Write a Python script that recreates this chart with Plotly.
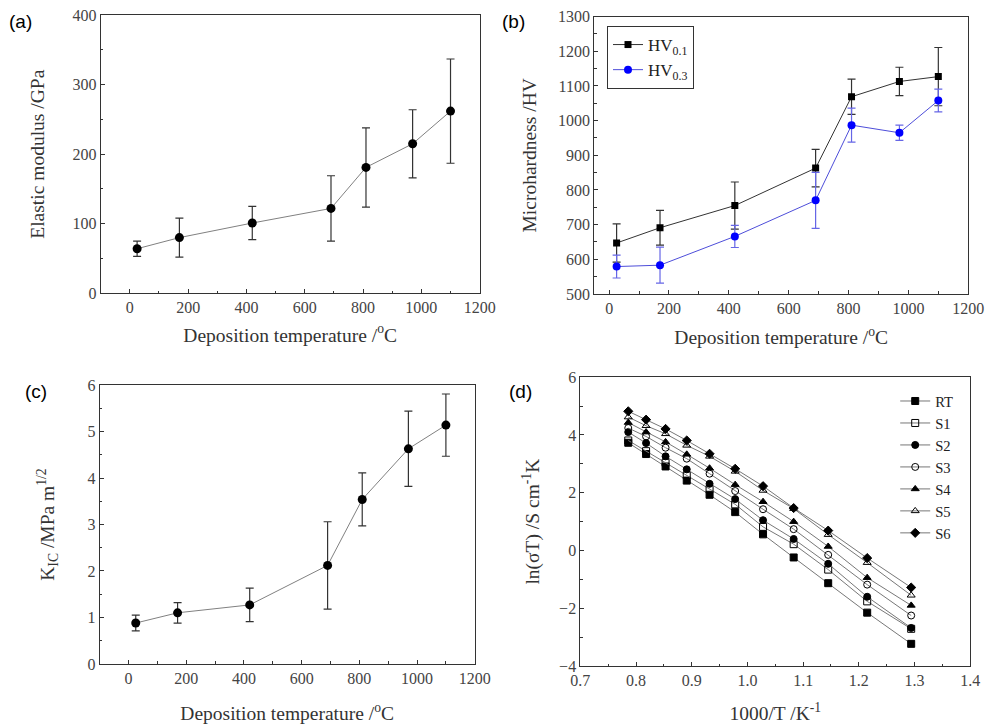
import plotly.graph_objects as go

# ---------------- data ----------------
temps = [25, 170, 420, 690, 810, 970, 1100]

# (a) elastic modulus
modulus = [64, 80, 101, 122, 181, 215, 262]
modulus_err = [11, 28, 24, 47, 57, 49, 75]

# (b) microhardness
hv01 = [647, 691, 755, 863, 1069, 1113, 1127]
hv01_err = [55, 50, 68, 54, 51, 41, 84]
hv03 = [579, 583, 666, 770, 987, 965, 1058]
hv03_err = [33, 52, 32, 81, 49, 22, 33]

# (c) fracture toughness
kic = [0.88, 1.10, 1.27, 2.12, 3.54, 4.63, 5.14]
kic_err = [0.17, 0.22, 0.36, 0.94, 0.57, 0.81, 0.67]

# (d) Arrhenius plot
inv_t = [0.786, 0.818, 0.853, 0.891, 0.932, 0.978, 1.028, 1.083, 1.145, 1.215, 1.294]
series_names = ["RT", "S1", "S2", "S3", "S4", "S5", "S6"]
ln_rt = [3.73, 3.34, 2.91, 2.42, 1.93, 1.33, 0.56, -0.24, -1.13, -2.15, -3.23]
ln_s1 = [3.81, 3.44, 3.04, 2.60, 2.13, 1.60, 0.82, 0.22, -0.66, -1.76, -2.71]
ln_s2 = [4.10, 3.72, 3.26, 2.81, 2.31, 1.78, 1.05, 0.40, -0.46, -1.60, -2.68]
ln_s3 = [4.24, 3.95, 3.56, 3.18, 2.66, 2.06, 1.43, 0.74, -0.15, -1.18, -2.25]
ln_s4 = [4.43, 4.10, 3.76, 3.33, 2.85, 2.28, 1.69, 1.00, 0.14, -0.94, -1.90]
ln_s5 = [4.62, 4.32, 4.04, 3.64, 3.26, 2.74, 2.08, 1.45, 0.55, -0.42, -1.55]
ln_s6 = [4.82, 4.53, 4.21, 3.81, 3.35, 2.83, 2.23, 1.47, 0.69, -0.26, -1.28]
ln_series = [ln_rt, ln_s1, ln_s2, ln_s3, ln_s4, ln_s5, ln_s6]
symbols = ["square", "square-open", "circle", "circle-open",
           "triangle-up", "triangle-up-open", "diamond"]

# ---------------- figure ----------------
SERIF = "Liberation Serif"
SANS = "Liberation Sans"
fig = go.Figure()

def err(vals, color):
    return dict(type="data", array=vals, visible=True, color=color,
                thickness=1.2, width=4)

fig.add_trace(go.Scatter(x=temps, y=modulus, mode="lines+markers",
                         line=dict(color="#808080", width=1),
                         marker=dict(symbol="circle", size=9, color="black"),
                         error_y=err(modulus_err, "#333333"),
                         showlegend=False, xaxis="x", yaxis="y"))

fig.add_trace(go.Scatter(x=temps, y=hv01, mode="lines+markers", name="HV<sub>0.1</sub>",
                         line=dict(color="#333333", width=1),
                         marker=dict(symbol="square", size=7, color="black"),
                         error_y=err(hv01_err, "#333333"),
                         legend="legend", xaxis="x2", yaxis="y2"))
fig.add_trace(go.Scatter(x=temps, y=hv03, mode="lines+markers", name="HV<sub>0.3</sub>",
                         line=dict(color="#4d4dd9", width=1),
                         marker=dict(symbol="circle", size=8, color="#0000ff"),
                         error_y=err(hv03_err, "#6666e6"),
                         legend="legend", xaxis="x2", yaxis="y2"))

fig.add_trace(go.Scatter(x=temps, y=kic, mode="lines+markers",
                         line=dict(color="#808080", width=1),
                         marker=dict(symbol="circle", size=9, color="black"),
                         error_y=err(kic_err, "#333333"),
                         showlegend=False, xaxis="x3", yaxis="y3"))

for name, vals, sym in zip(series_names, ln_series, symbols):
    fig.add_trace(go.Scatter(x=inv_t, y=vals, mode="lines+markers", name=name,
                             line=dict(color="#777777", width=1),
                             marker=dict(symbol=sym, size=7, color="black",
                                         line=dict(color="black", width=1)),
                             legend="legend2", xaxis="x4", yaxis="y4"))

def common_axis():
    return dict(showline=True, linecolor="#333333", linewidth=1, mirror=True,
                ticks="inside", ticklen=4, tickcolor="#333333",
                showgrid=False, zeroline=False, automargin=False,
                tickfont=dict(family=SERIF, size=16, color="#444444"))

def xaxis(domain, rng, dtick, minor_dtick, anchor, title, standoff, tickformat=None):
    d = common_axis()
    d.update(domain=domain, range=rng, dtick=dtick, tick0=0, anchor=anchor,
             minor=dict(ticks="inside", ticklen=2.5, dtick=minor_dtick, tickcolor="#333333"),
             title=dict(text=title, font=dict(family=SERIF, size=19.5, color="#333333"),
                        standoff=standoff))
    if tickformat:
        d["tickformat"] = tickformat
    return d

def yaxis(domain, rng, dtick, minor_dtick, anchor, title, standoff):
    d = common_axis()
    d.update(domain=domain, range=rng, dtick=dtick, anchor=anchor,
             minor=dict(ticks="inside", ticklen=2.5, dtick=minor_dtick, tickcolor="#333333"),
             title=dict(text=title, font=dict(family=SERIF, size=19.5, color="#333333"),
                        standoff=standoff))
    return d

dep = "Deposition temperature /<sup>o</sup>C"
fig.update_layout(
    width=987, height=724,
    margin=dict(l=0, r=0, t=0, b=0),
    paper_bgcolor="white", plot_bgcolor="white",
    xaxis=xaxis([0.102, 0.486], [-100, 1200], 200, 100, "y", dep, 12),
    yaxis=yaxis([0.595, 0.979], [0, 400], 100, 50, "x", "Elastic modulus /GPa", 22),
    xaxis2=xaxis([0.602, 0.981], [-50, 1200], 200, 100, "y2", dep, 14),
    yaxis2=yaxis([0.594, 0.977], [500, 1300], 100, 50, "x2", "Microhardness /HV", 16),
    xaxis3=xaxis([0.101, 0.481], [-100, 1200], 200, 100, "y3", dep, 20),
    yaxis3=yaxis([0.083, 0.468], [0, 6], 1, 0.5, "x3", "K<sub>IC</sub> /MPa m<sup>1/2</sup>", 27),
    xaxis4=xaxis([0.588, 0.983], [0.7, 1.4], 0.1, 0.05, "y4", "1000/T /K<sup>-1</sup>", 18, ".1f"),
    yaxis4=yaxis([0.080, 0.479], [-4, 6], 2, 1, "x4", "ln(σT) /S cm<sup>-1</sup>K", 14),
    legend=dict(x=0.615, y=1 - 26/724, xanchor="left", yanchor="top",
                bordercolor="#333333", borderwidth=1, bgcolor="white",
                font=dict(family=SERIF, size=17, color="#222222")),
    legend2=dict(x=0.907, y=1 - 385/724, xanchor="left", yanchor="top",
                 bgcolor="rgba(0,0,0,0)", borderwidth=0,
                 font=dict(family=SERIF, size=14.6, color="#222222")),
    annotations=[
        dict(text="(a)", x=7/987, y=1 - 21/724, xref="paper", yref="paper", xanchor="left", yanchor="middle",
             showarrow=False, font=dict(family=SANS, size=19, color="black")),
        dict(text="(b)", x=500/987, y=1 - 21/724, xref="paper", yref="paper", xanchor="left", yanchor="middle",
             showarrow=False, font=dict(family=SANS, size=19, color="black")),
        dict(text="(c)", x=23/987, y=1 - 392/724, xref="paper", yref="paper", xanchor="left", yanchor="middle",
             showarrow=False, font=dict(family=SANS, size=19, color="black")),
        dict(text="(d)", x=507/987, y=1 - 391/724, xref="paper", yref="paper", xanchor="left", yanchor="middle",
             showarrow=False, font=dict(family=SANS, size=19, color="black")),
    ],
)

fig.write_html("out.html", config={"displayModeBar": False},
               post_script="document.body.style.margin='0';document.body.style.padding='0';")
